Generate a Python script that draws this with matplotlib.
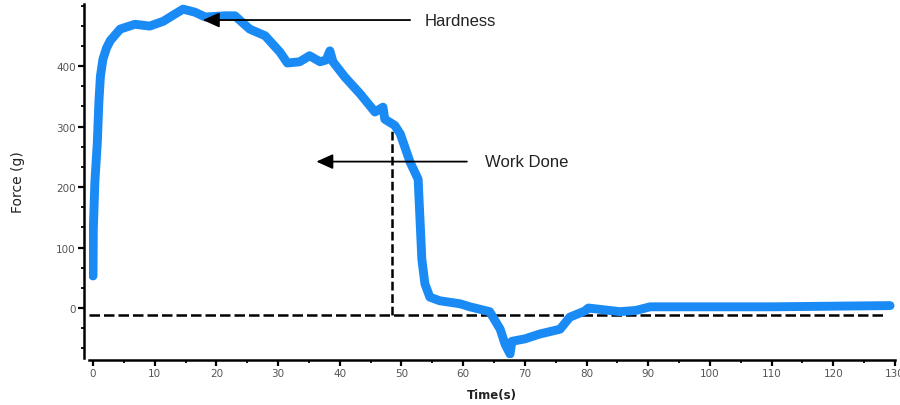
import matplotlib
matplotlib.use("Agg")
import matplotlib.pyplot as plt
from matplotlib.ticker import MultipleLocator, AutoMinorLocator

# texture analyser trace
time_s = [0, 0.05, 0.3, 0.7, 0.95, 1.2, 1.6, 2.2, 2.8, 4.4, 6.8, 9.2, 11.4,
          13.3, 14.6, 16.5, 18.2, 21.4, 23.0, 25.4, 27.9, 28.7, 30.3, 31.5,
          33.5, 35.1, 36.8, 37.8, 38.4, 38.9, 40.8, 43.3, 45.7, 47.0, 47.3,
          48.9, 49.8, 51.4, 52.7, 53.0, 53.3, 53.8, 54.6, 56.2, 59.5, 61.1,
          64.3, 66.0, 66.8, 67.6, 67.9, 70.0, 72.4, 75.7, 77.3, 79.7, 80.3,
          85.4, 88.0, 90.3, 110.0, 129.2]
force_g = [53, 130, 208, 274, 340, 383, 411, 430, 442, 461, 469, 466, 474,
           486, 494, 489, 481, 483, 483, 461, 450, 441, 423, 405,
           407, 417, 407, 410, 425, 407, 382, 354, 324, 332, 312,
           302, 288, 241, 213, 147, 81, 40, 18, 12, 7, 2,
           -6, -35, -60, -76, -55, -51, -43, -35, -15, -5, 0,
           -6, -4, 2, 2, 4]

baseline = -11.5
work_end_t = 48.4
work_end_f = 296

x_ticks = list(range(0, 131, 10))
y_ticks = [0, 100, 200, 300, 400]

fig = plt.figure(figsize=(9, 4.06), dpi=100)
ax = fig.add_axes([89/900, 47/406, 806/900, 354/406])

ax.plot(time_s, force_g, color="#1a8af5", lw=6.4,
        solid_capstyle="round", solid_joinstyle="round", zorder=3)

# dashed reference lines
ax.plot([-0.65, 128], [baseline, baseline], color="black", lw=1.8,
        ls=(0, (4.2, 1.6)), zorder=2, clip_on=False)
ax.plot([work_end_t, work_end_t], [baseline, work_end_f], color="black",
        lw=1.8, ls=(0, (3.5, 1.5)), zorder=2)

ax.set_xlim(-0.65, 130)
ax.set_ylim(-82.6, 502.5)

for s in ["top", "right"]:
    ax.spines[s].set_visible(False)
ax.spines["left"].set_position(("outward", 3.6))
ax.spines["bottom"].set_position(("outward", 1.5))
ax.spines["left"].set_linewidth(1.8)
ax.spines["bottom"].set_linewidth(1.8)

ax.set_xticks(x_ticks)
ax.set_yticks(y_ticks)
ax.xaxis.set_minor_locator(MultipleLocator(5))
ax.yaxis.set_minor_locator(AutoMinorLocator(3))
ax.tick_params(which="major", length=4, width=1.6, labelsize=7.5,
               labelcolor="#555555", pad=2)
ax.tick_params(which="minor", length=2.5, width=1.3)

ax.set_xlabel("Time(s)", fontsize=8.5, fontweight="bold", color="#222222",
              labelpad=7)
ax.set_ylabel("Force (g)", fontsize=10, color="#222222", labelpad=22)

# annotations
ax.annotate("", xy=(17.8, 476), xytext=(51.4, 476),
            arrowprops=dict(arrowstyle="-|>,head_length=1.0,head_width=0.45",
                            color="black", lw=1.3, shrinkA=0, shrinkB=0))
ax.text(53.8, 476, "Hardness", fontsize=12, family="Liberation Sans",
        color="#222222", va="center", ha="left")

ax.annotate("", xy=(36.2, 242), xytext=(60.6, 242),
            arrowprops=dict(arrowstyle="-|>,head_length=1.0,head_width=0.45",
                            color="black", lw=1.3, shrinkA=0, shrinkB=0))
ax.text(63.5, 242, "Work Done", fontsize=12, family="Liberation Sans",
        color="#222222", va="center", ha="left")

fig.savefig("out.png", dpi=100, facecolor="white")
